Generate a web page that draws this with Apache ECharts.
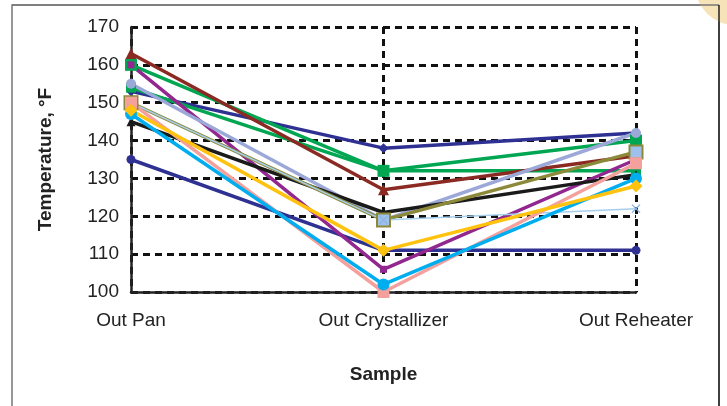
<!DOCTYPE html>
<html><head><meta charset="utf-8">
<script src="https://cdn.jsdelivr.net/npm/echarts@6/dist/echarts.min.js"></script>
<style>html,body{margin:0;padding:0;background:#fff}#c{width:727px;height:406px}</style>
</head><body><div id="c"></div>
<script>
const categories = ['Out Pan', 'Out Crystallizer', 'Out Reheater'];
const yTicks = [100, 110, 120, 130, 140, 150, 160, 170];
const navyA = [153, 138, 142];
const navyB = [135, 111, 111];
const greenA = [160, 132, 140];
const greenB = [154, 132, 132];
const darkRed = [163, 127, 136];
const purple = [160, 106, 135];
const lavender = [155, 119, 142];
const black = [145, 121, 131];
const lightBlue = [150, 119, 122];
const olive = [150, 119, 137];
const pink = [150, 100, 134];
const cyan = [147, 102, 130];
const yellow = [148, 111, 128];

const X = 'path://M0,1L1,0L5,4L9,0L10,1L6,5L10,9L9,10L5,6L1,10L0,9L4,5Z';
function s(name, data, color, symbol, size, width, extra) {
  return Object.assign({
    name, type: 'line', data, symbol, symbolSize: size,
    lineStyle: { color, width: width },
    itemStyle: { color },
    z: 3
  }, extra || {});
}
const font = 'Liberation Sans';
const chart = echarts.init(document.getElementById('c'));
chart.setOption({
  animation: false,
  backgroundColor: '#fff',
  graphic: [
    { type: 'rect', shape: { x: 12, y: 5, width: 707, height: 420 }, style: { fill: '#fff', stroke: '#777', lineWidth: 1.5 }, z: -5 },
    { type: 'circle', shape: { cx: 735, cy: -15, r: 40 }, style: { fill: '#f6e3b8' }, z: -4 },
    { type: 'line', shape: { x1: 12, y1: 5, x2: 719, y2: 5 }, style: { stroke: '#777', lineWidth: 1.5 }, z: -3 },
    { type: 'line', shape: { x1: 719, y1: 5, x2: 719, y2: 406 }, style: { stroke: '#222', lineWidth: 1.5 }, z: -3 }
  ],
  grid: { left: 131, right: 91, top: 27, bottom: 114, containLabel: false },
  xAxis: {
    type: 'category', data: categories, boundaryGap: false,
    name: 'Sample', nameLocation: 'middle', nameGap: 73,
    nameTextStyle: { fontFamily: font, fontSize: 19, fontWeight: 'bold', color: '#222' },
    axisLine: { lineStyle: { color: '#222', width: 2.5 } },
    axisTick: { show: false },
    axisLabel: { fontFamily: font, fontSize: 19, color: '#222', margin: 19, interval: 0 },
    splitLine: { show: true, lineStyle: { color: '#111', width: 3, type: [7, 5] } }
  },
  yAxis: {
    type: 'value', min: 100, max: 170, interval: 10,
    name: 'Temperature, °F', nameLocation: 'middle', nameGap: 76,
    nameTextStyle: { fontFamily: font, fontSize: 19, fontWeight: 'bold', color: '#222' },
    axisLine: { show: true, lineStyle: { color: '#222', width: 2.5 } },
    axisTick: { show: false },
    axisLabel: { fontFamily: font, fontSize: 19, color: '#222', margin: 12,
      formatter: v => yTicks.includes(v) ? String(v) : '' },
    splitLine: { show: true, lineStyle: { color: '#111', width: 3, type: [7, 5] } }
  },
  series: [
    s('A', navyA, '#2e3192', 'diamond', 10, 3.5),
    s('B', navyB, '#2e3192', 'circle', 9, 3.5),
    s('C', greenA, '#00a651', 'rect', 12, 3.5),
    s('D', greenB, '#00a651', 'rect', 10, 3.5),
    s('E', darkRed, '#8b2a22', 'triangle', 11, 3.5),
    s('F', purple, '#92278f', 'path://M0,0L10,0L10,10L0,10Z', 7, 3.5),
    s('G', lavender, '#9ba8d8', 'circle', 10, 3.5),
    s('H', black, '#1a1a1a', 'triangle', 9, 3.5),
    s('I', olive, '#8c8a3a', 'rect', 13, 3.5, { itemStyle: { color: '#9fc0ea', borderColor: '#8c8a3a', borderWidth: 2 } }),
    s('J', lightBlue, '#a6cfee', X, 9, 1.5, { itemStyle: { color: '#8ab4e6' } }),
    s('K', pink, '#f4a09c', 'rect', 12, 3.5),
    s('L', cyan, '#00aeef', 'circle', 12, 3.5),
    s('M', yellow, '#ffc20e', 'diamond', 13, 3.5)
  ]
});
</script></body></html>
